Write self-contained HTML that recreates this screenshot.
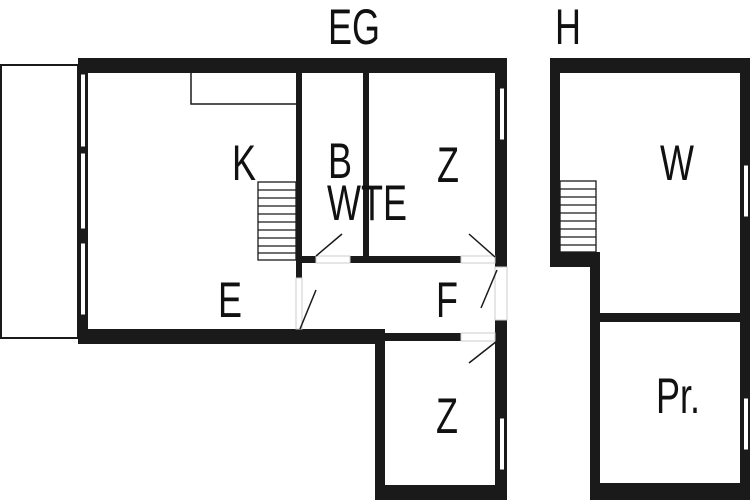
<!DOCTYPE html>
<html><head><meta charset="utf-8"><style>
html,body{margin:0;padding:0;background:#fff;width:750px;height:500px;overflow:hidden}
svg text{font-family:"Liberation Sans",sans-serif;font-size:50px;fill:#111}
</style></head><body>
<svg width="750" height="500" viewBox="0 0 750 500" xmlns="http://www.w3.org/2000/svg">
<rect width="750" height="500" fill="#fff"/>
<g fill="#1a1a1a">
<!-- main building -->
<rect x="78" y="58" width="429" height="15"/>
<rect x="78" y="58" width="10" height="286"/>
<rect x="78" y="329" width="307" height="15"/>
<rect x="385" y="333" width="76" height="8"/>
<rect x="375" y="333" width="10" height="167"/>
<rect x="375" y="485" width="132" height="15"/>
<rect x="495" y="58" width="12" height="209"/>
<rect x="495" y="320" width="12" height="180"/>
<rect x="296" y="73" width="6" height="205"/>
<rect x="363" y="73" width="6" height="190"/>
<rect x="296" y="256" width="20" height="7"/>
<rect x="350" y="256" width="111" height="7"/>
<!-- right building -->
<rect x="550" y="58" width="200" height="15"/>
<rect x="550" y="58" width="10" height="209"/>
<rect x="550" y="252" width="50" height="15"/>
<rect x="590" y="252" width="10" height="248"/>
<rect x="740" y="58" width="10" height="442"/>
<rect x="600" y="313" width="140" height="9"/>
<rect x="590" y="483" width="160" height="17"/>
</g>
<!-- windows -->
<g fill="#fff" stroke="#1a1a1a" stroke-width="1">
<rect x="80.5" y="74" width="5" height="73"/>
<rect x="80.5" y="153" width="5" height="76"/>
<rect x="80.5" y="243" width="5" height="72"/>
<rect x="499.5" y="88" width="5" height="52"/>
<rect x="499.5" y="418" width="5" height="52"/>
<rect x="743.5" y="165" width="5" height="52"/>
<rect x="743.5" y="398" width="5" height="52"/>
</g>
<!-- balcony -->
<rect x="1" y="65" width="77" height="273" fill="none" stroke="#1a1a1a" stroke-width="2"/>
<!-- counter -->
<polyline points="191,73 191,104 296,104" fill="none" stroke="#1a1a1a" stroke-width="1.5"/>
<!-- door gaps light -->
<g fill="none" stroke="#ccc" stroke-width="1">
<rect x="316" y="256" width="34" height="7"/>
<rect x="461" y="256" width="34" height="7"/>
<rect x="461" y="333" width="34" height="8"/>
<rect x="296" y="278" width="6" height="51"/>
<rect x="495" y="267" width="12" height="53"/>
</g>
<!-- stairs -->
<g fill="none" stroke="#1a1a1a" stroke-width="1.3">
<rect x="258" y="182" width="38" height="78"/>
<line x1="258" y1="190" x2="296" y2="190"/><line x1="258" y1="198" x2="296" y2="198"/>
<line x1="258" y1="206" x2="296" y2="206"/><line x1="258" y1="214" x2="296" y2="214"/>
<line x1="258" y1="222" x2="296" y2="222"/><line x1="258" y1="230" x2="296" y2="230"/>
<line x1="258" y1="238" x2="296" y2="238"/><line x1="258" y1="246" x2="296" y2="246"/>
<line x1="258" y1="253" x2="296" y2="253"/>
<rect x="560" y="181" width="36" height="71"/>
<line x1="560" y1="189" x2="596" y2="189"/><line x1="560" y1="197" x2="596" y2="197"/>
<line x1="560" y1="205" x2="596" y2="205"/><line x1="560" y1="213" x2="596" y2="213"/>
<line x1="560" y1="221" x2="596" y2="221"/><line x1="560" y1="229" x2="596" y2="229"/>
<line x1="560" y1="237" x2="596" y2="237"/><line x1="560" y1="245" x2="596" y2="245"/>
</g>
<!-- door swings -->
<g stroke="#1a1a1a" stroke-width="1.5">
<line x1="316" y1="256" x2="342" y2="234"/>
<line x1="300" y1="329" x2="316" y2="290"/>
<line x1="495" y1="257" x2="469" y2="234"/>
<line x1="497" y1="270" x2="481" y2="308"/>
<line x1="497" y1="341" x2="469" y2="363"/>
</g>
<!-- labels -->
<text transform="translate(354,44) scale(0.72,1)" text-anchor="middle">EG</text>
<text transform="translate(568,44) scale(0.72,1)" text-anchor="middle">H</text>
<text transform="translate(244,180) scale(0.72,1)" text-anchor="middle">K</text>
<text transform="translate(340,178) scale(0.72,1)" text-anchor="middle">B</text>
<text transform="translate(367,220) scale(0.72,1)" text-anchor="middle">WTE</text>
<text transform="translate(448,182) scale(0.72,1)" text-anchor="middle">Z</text>
<text transform="translate(230,317) scale(0.72,1)" text-anchor="middle">E</text>
<text transform="translate(447,317) scale(0.72,1)" text-anchor="middle">F</text>
<text transform="translate(447,433) scale(0.72,1)" text-anchor="middle">Z</text>
<text transform="translate(677,180) scale(0.72,1)" text-anchor="middle">W</text>
<text transform="translate(678,413) scale(0.72,1)" text-anchor="middle">Pr.</text>
</svg>
</body></html>
